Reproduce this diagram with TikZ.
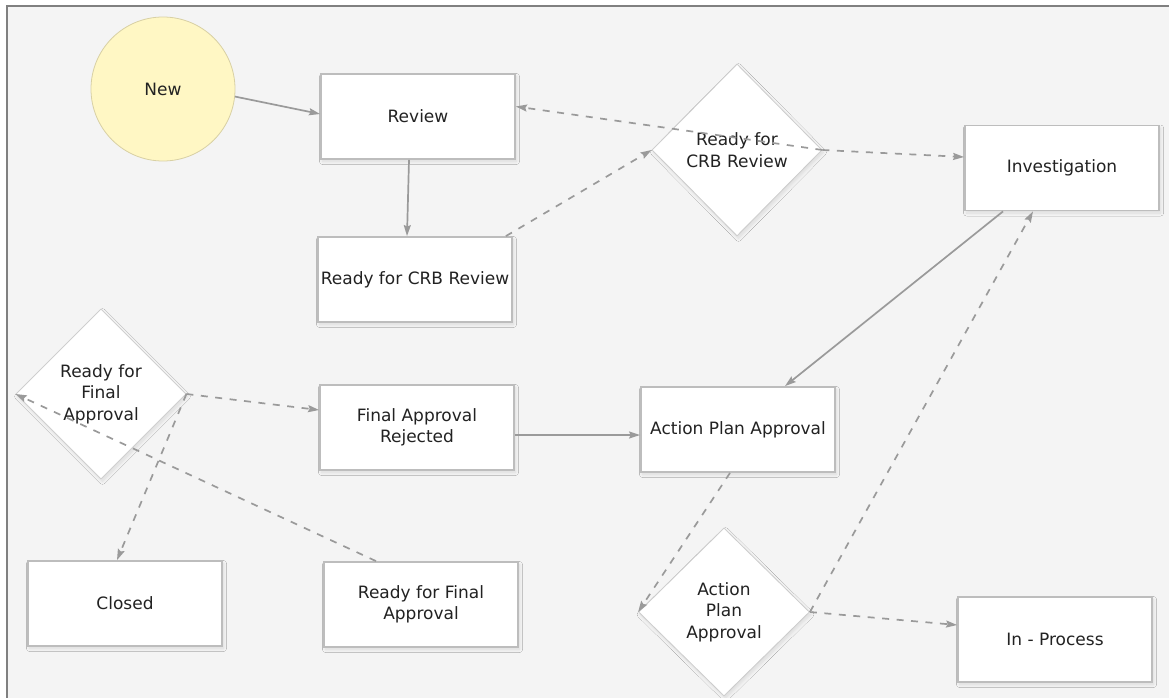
\documentclass[tikz,border=0pt]{standalone}
\usepackage{fontspec}
\setmainfont{DejaVu Sans}
\usetikzlibrary{shapes.geometric,arrows.meta,shadows.blur}
\definecolor{bgc}{HTML}{F4F4F4}
\definecolor{framec}{HTML}{808080}
\definecolor{boxline}{HTML}{BDBDBD}
\definecolor{dline}{HTML}{CCCCCC}
\definecolor{conn}{HTML}{9A9A9A}
\definecolor{txt}{HTML}{222222}
\definecolor{newfill}{HTML}{FFF7C4}
\definecolor{newline}{HTML}{D8D0A4}
\tikzset{
  every node/.style={font=\fontsize{17}{21.5}\selectfont, text=txt, align=center},
  shd/.style={blur shadow={shadow xshift=1.5pt, shadow yshift=-2.5pt, shadow blur steps=8, shadow blur radius=3pt, shadow opacity=10}},
  statebox/.style={draw=boxline, line width=1.8pt, fill=white, minimum width=194pt, minimum height=85pt, inner sep=0pt, shd},
  decision/.style={diamond, draw=dline, line width=0.8pt, fill=white, inner sep=0pt, minimum width=170pt, minimum height=170pt, shd},
  startnode/.style={circle, draw=newline, line width=0.8pt, fill=newfill, minimum size=144pt, inner sep=0pt},
  solidc/.style={draw=conn, line width=1.7pt, -{Stealth[length=11pt,width=7pt,inset=1.5pt]}},
  dashc/.style={solidc, dash pattern=on 7pt off 7.5pt},
}
\begin{document}
\begin{tikzpicture}[x=1pt,y=-1pt]
\useasboundingbox (0,0) rectangle (1169,698);
\fill[bgc] (7,6) rectangle (1169,698);
\draw[framec, line width=2pt] (7,698) -- (7,6) -- (1169,6);

\node[startnode] (new) at (163,89) {New};
\node[statebox] (review) at (418,116.5) {Review};
\node[statebox] (crbbox) at (415,279.5) {Ready for CRB Review};
\node[decision, minimum height=172pt] (crbd) at (737,150) {Ready for\\CRB Review};
\node[statebox] (inv) at (1062,168) {Investigation};
\node[decision] (fd) at (101,394) {Ready for\\Final\\Approval};
\node[statebox] (far) at (417,427.5) {Final Approval\\Rejected};
\node[statebox] (apabox) at (738,429.5) {Action Plan Approval};
\node[statebox] (closed) at (125,603.5) {Closed};
\node[statebox] (rffa) at (421,604.5) {Ready for Final\\Approval};
\node[decision, minimum width=171pt, minimum height=168pt] (apad) at (724,612) {Action\\Plan\\Approval};
\node[statebox] (inproc) at (1055,639.5) {In - Process};

\draw[solidc] (new.-6) -- ([yshift=2.5pt]review.west);
\draw[solidc] ([xshift=-9pt]review.south) -- ([xshift=-8pt]crbbox.north);
\draw[dashc] ([xshift=-7pt]crbbox.north east) -- (crbd.west);
\draw[dashc] (crbd.east) -- ([yshift=10pt]review.east);
\draw[dashc] (crbd.east) -- ([yshift=11pt]inv.west);
\draw[solidc] ([xshift=-59pt]inv.south) -- ([xshift=47pt]apabox.north);
\draw[solidc] ([yshift=-7.5pt]far.east) -- ([yshift=-7.5pt]far.east -| apabox.west);
\draw[dashc] ([xshift=-8pt]apabox.south) -- (apad.west);
\draw[dashc] (apad.east) -- ([xshift=-29pt]inv.south);
\draw[dashc] (apad.east) -- ([yshift=14.5pt]inproc.west);
\draw[dashc] (fd.east) -- ([yshift=17.5pt]far.west);
\draw[dashc] (fd.east) -- ([xshift=-8pt]closed.north);
\draw[dashc] ([xshift=-45pt]rffa.north) -- (fd.west);
\end{tikzpicture}
\end{document}
